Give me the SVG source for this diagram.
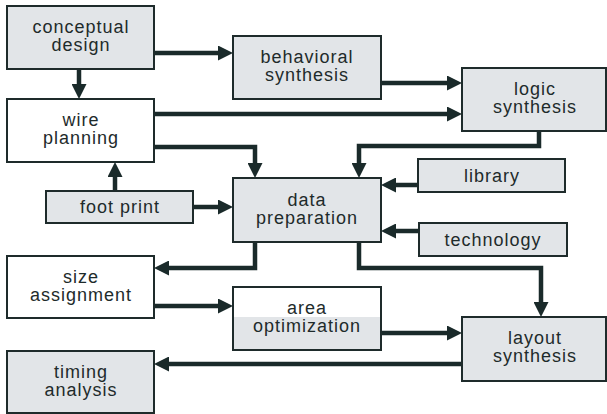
<svg xmlns="http://www.w3.org/2000/svg" width="607" height="414" viewBox="0 0 607 414">
<style>
.box{fill:#e2e5e8;stroke:#1e2b2b;stroke-width:2}
.wbox{fill:#ffffff;stroke:#1e2b2b;stroke-width:2}
.t{font-family:"Liberation Sans",Arial,sans-serif;font-size:18px;letter-spacing:1px;fill:#1e2b2b;text-anchor:middle}
.c{fill:none;stroke:#1a2a2a;stroke-width:4.5;stroke-linejoin:miter}
</style>
<defs>
<marker id="ah" viewBox="0 0 15 15" refX="0" refY="7.5" markerWidth="15" markerHeight="15" markerUnits="userSpaceOnUse" orient="auto">
<path d="M0,0 L15,7.5 L0,15 z" fill="#1a2a2a"/>
</marker>
</defs>
<rect width="607" height="414" fill="#ffffff"/>
<g id="connectors">
<path class="c" marker-end="url(#ah)" d="M154,53 H218"/>
<path class="c" marker-end="url(#ah)" d="M79,69 V84"/>
<path class="c" marker-end="url(#ah)" d="M381,83 H447"/>
<path class="c" marker-end="url(#ah)" d="M154,114 H447"/>
<path class="c" marker-end="url(#ah)" d="M154,147 H255 V163"/>
<path class="c" marker-end="url(#ah)" d="M539,131 V146 H359 V163"/>
<path class="c" marker-end="url(#ah)" d="M418,185 H396"/>
<path class="c" marker-end="url(#ah)" d="M115,191 V177"/>
<path class="c" marker-end="url(#ah)" d="M193,207 H218"/>
<path class="c" marker-end="url(#ah)" d="M419,231 H396"/>
<path class="c" marker-end="url(#ah)" d="M255,242 V268 H169"/>
<path class="c" marker-end="url(#ah)" d="M359,242 V268 H541 V302"/>
<path class="c" marker-end="url(#ah)" d="M154,306 H218"/>
<path class="c" marker-end="url(#ah)" d="M381,333 H447"/>
<path class="c" marker-end="url(#ah)" d="M462,364 H169"/>
</g>
<g id="conceptual-design">
<rect class="box" x="7" y="6" width="147" height="63"/>
<text class="t" x="81" y="33">conceptual</text>
<text class="t" x="81" y="51">design</text>
</g>
<g id="behavioral-synthesis">
<rect class="box" x="233" y="36" width="148" height="63"/>
<text class="t" x="307" y="63">behavioral</text>
<text class="t" x="307" y="81">synthesis</text>
</g>
<g id="logic-synthesis">
<rect class="box" x="462" y="68" width="144" height="63"/>
<text class="t" x="535" y="95">logic</text>
<text class="t" x="535" y="113">synthesis</text>
</g>
<g id="wire-planning">
<rect class="wbox" x="7" y="99" width="147" height="63"/>
<text class="t" x="81" y="126">wire</text>
<text class="t" x="81" y="144">planning</text>
</g>
<g id="foot-print">
<rect class="box" x="46" y="191" width="147" height="32"/>
<text class="t" x="120" y="213">foot print</text>
</g>
<g id="data-preparation">
<rect class="box" x="233" y="178" width="148" height="64"/>
<text class="t" x="307" y="206">data</text>
<text class="t" x="307" y="224">preparation</text>
</g>
<g id="library">
<rect class="box" x="418" y="159" width="147" height="33"/>
<text class="t" x="492" y="182">library</text>
</g>
<g id="technology">
<rect class="box" x="419" y="223" width="148" height="33"/>
<text class="t" x="493" y="246">technology</text>
</g>
<g id="size-assignment">
<rect class="wbox" x="7" y="256" width="147" height="62"/>
<text class="t" x="81" y="283">size</text>
<text class="t" x="81" y="301">assignment</text>
</g>
<g id="area-optimization">
<rect x="233" y="287" width="148" height="30" fill="#ffffff"/>
<rect x="233" y="317" width="148" height="33" fill="#e2e5e8"/>
<rect x="233" y="287" width="148" height="63" fill="none" stroke="#1e2b2b" stroke-width="2"/>
<text class="t" x="307" y="314">area</text>
<text class="t" x="307" y="332">optimization</text>
</g>
<g id="layout-synthesis">
<rect class="box" x="462" y="317" width="144" height="64"/>
<text class="t" x="535" y="344">layout</text>
<text class="t" x="535" y="362">synthesis</text>
</g>
<g id="timing-analysis">
<rect class="box" x="7" y="351" width="147" height="62"/>
<text class="t" x="81" y="378">timing</text>
<text class="t" x="81" y="396">analysis</text>
</g>
</svg>
